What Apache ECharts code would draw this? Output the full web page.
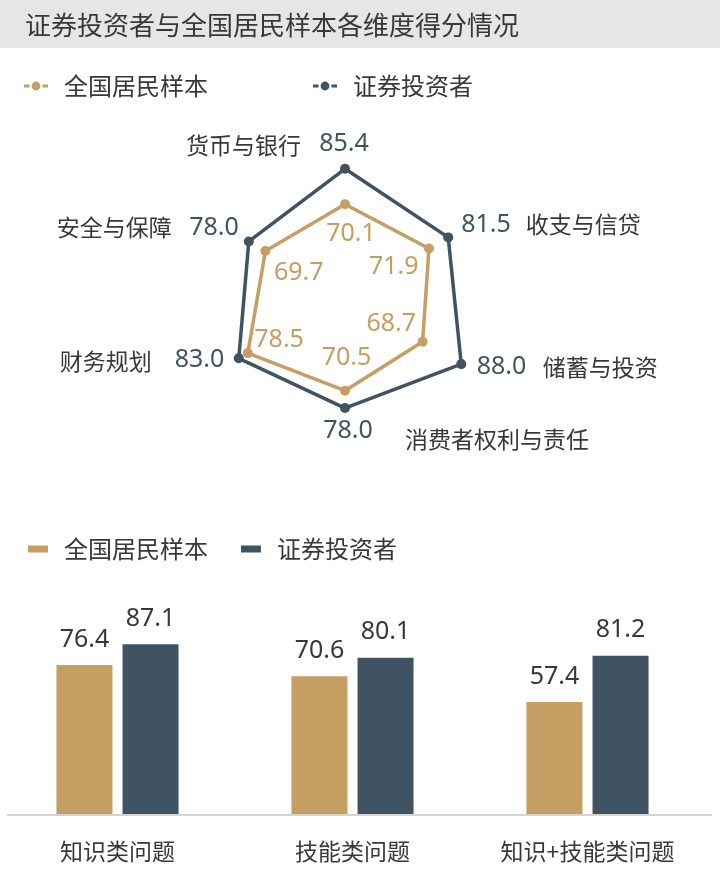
<!DOCTYPE html>
<html>
<head>
<meta charset="utf-8">
<script src="https://cdn.jsdelivr.net/npm/echarts@6/dist/echarts.min.js"></script>
<style>
html,body{margin:0;padding:0;background:#fff;}
#main{width:720px;height:872px;}
</style>
</head>
<body>
<div id="main"></div>
<script>
// ---- data ----
const seriesNames = ['全国居民样本', '证券投资者'];
const radarNames = ['货币与银行', '安全与保障', '财务规划', '消费者权利与责任', '储蓄与投资', '收支与信贷'];
const radarNational = [70.1, 69.7, 78.5, 70.5, 68.7, 71.9];
const radarInvestor = [85.4, 78.0, 83.0, 78.0, 88.0, 81.5];
const barCategories = ['知识类问题', '技能类问题', '知识+技能类问题'];
const barNational = [76.4, 70.6, 57.4];
const barInvestor = [87.1, 80.1, 81.2];

// ---- styles ----
const GOLD = '#C59E63';
const SLATE = '#405363';
const TEXT = '#383838';
const CJK = '"Noto Sans CJK SC", "Noto Sans", sans-serif';
const NUM = '"Noto Sans", "Noto Sans CJK SC", sans-serif';

// label placement relative to each radar vertex (layout, not data)
const investorLabelLayout = [
  {dx: -1, dy: -25, align: 'center'},
  {dx: -10, dy: -14, align: 'right'},
  {dx: -14.5, dy: 2, align: 'right'},
  {dx: 3, dy: 23, align: 'center'},
  {dx: 15.5, dy: 3, align: 'left'},
  {dx: 13, dy: -13, align: 'left'}
];
const nameLabelLayout = [
  {dx: -44, dy: -24, align: 'right'},
  {dx: -77, dy: -14, align: 'right'},
  {dx: -87, dy: 2.5, align: 'right'},
  {dx: 60, dy: 31.5, align: 'left'},
  {dx: 81.5, dy: 3, align: 'left'},
  {dx: 77.5, dy: -13, align: 'left'}
];
const nationalLabelLayout = [
  {dx: 6, dy: 30, align: 'center'},
  {dx: 8.5, dy: 21.5, align: 'left'},
  {dx: 6.5, dy: -13, align: 'left'},
  {dx: 1.5, dy: -32.5, align: 'center'},
  {dx: -6.5, dy: -17.5, align: 'right'},
  {dx: -10.5, dy: 18, align: 'right'}
];

const radarIcon = 'path://M0,3.5H5.5V6.5H0Z M7.6,5A4.4,4.4,0,1,0,16.4,5A4.4,4.4,0,1,0,7.6,5Z M18.5,3.5H24V6.5H18.5Z';

const RADAR_MIN = 30, RADAR_MAX = 100;
const RADAR_CENTER = [345, 297], RADAR_RADIUS = 162;

const chart = echarts.init(document.getElementById('main'), null, {renderer: 'canvas'});

const option = {
  animation: false,
  backgroundColor: '#ffffff',
  title: {
    text: '证券投资者与全国居民样本各维度得分情况',
    left: 25, top: 12, padding: 0,
    textStyle: {fontSize: 26, fontWeight: 'normal', color: TEXT, fontFamily: CJK}
  },
  legend: [
    {
      left: 24, top: 74, padding: 0,
      itemWidth: 24, itemHeight: 9, itemGap: 105,
      data: [
        {name: seriesNames[0], icon: radarIcon, itemStyle: {color: GOLD}},
        {name: seriesNames[1], icon: radarIcon, itemStyle: {color: SLATE}}
      ],
      textStyle: {fontSize: 24, color: TEXT, fontFamily: CJK, padding: [0, 0, 0, 11]},
      selectedMode: false
    },
    {
      left: 28, top: 537, padding: 0,
      itemWidth: 20, itemHeight: 7, itemGap: 33,
      data: [
        {name: seriesNames[0], icon: 'rect', itemStyle: {color: GOLD}},
        {name: seriesNames[1], icon: 'rect', itemStyle: {color: SLATE}}
      ],
      textStyle: {fontSize: 24, color: TEXT, fontFamily: CJK, padding: [0, 0, 0, 11]},
      selectedMode: false
    }
  ],
  radar: {
    center: RADAR_CENTER,
    radius: RADAR_RADIUS,
    startAngle: 90,
    indicator: radarNames.map(n => ({name: n, min: RADAR_MIN, max: RADAR_MAX})),
    axisName: {show: false},
    axisLine: {show: false},
    splitLine: {show: false},
    splitArea: {show: false},
    axisTick: {show: false},
    axisLabel: {show: false}
  },
  grid: [
    {left: -1, right: 15, top: 619, bottom: 58},
    {left: 8, right: 9, top: 619, bottom: 57}
  ],
  xAxis: [
    {
      type: 'category', gridIndex: 0, data: barCategories,
      axisLine: {show: false}, axisTick: {show: false},
      axisLabel: {fontSize: 23, color: TEXT, fontFamily: CJK, margin: 26}
    },
    {
      type: 'value', gridIndex: 1, min: 0, max: 1,
      axisLine: {show: true, onZero: false, lineStyle: {color: '#d4d4d4', width: 2}},
      axisTick: {show: false}, axisLabel: {show: false}, splitLine: {show: false}
    }
  ],
  yAxis: [
    {type: 'value', gridIndex: 0, min: 0, max: 100, show: false},
    {type: 'value', gridIndex: 1, min: 0, max: 1, show: false}
  ],
  series: [
    {
      type: 'radar',
      symbol: 'circle',
      data: [
        {
          name: seriesNames[0], value: radarNational,
          symbolSize: 10,
          itemStyle: {color: GOLD},
          lineStyle: {color: GOLD, width: 3.5}
        },
        {
          name: seriesNames[1], value: radarInvestor,
          symbolSize: 10,
          itemStyle: {color: SLATE},
          lineStyle: {color: SLATE, width: 3.5}
        }
      ],
      label: {show: false}
    },
    {
      name: seriesNames[0], type: 'bar', xAxisIndex: 0, yAxisIndex: 0,
      data: barNational, barWidth: 56, barGap: '18%',
      itemStyle: {color: GOLD},
      label: {show: true, position: 'top', distance: 13, fontSize: 25, color: TEXT, fontFamily: NUM,
        formatter: p => Number(p.value).toFixed(1)}
    },
    {
      name: seriesNames[1], type: 'bar', xAxisIndex: 0, yAxisIndex: 0,
      data: barInvestor, barWidth: 56, barGap: '18%',
      itemStyle: {color: SLATE},
      label: {show: true, position: 'top', distance: 13, fontSize: 25, color: TEXT, fontFamily: NUM,
        formatter: p => Number(p.value).toFixed(1)}
    }
  ],
  graphic: [
    {type: 'rect', z: -10, shape: {x: 0, y: 0, width: 720, height: 48}, style: {fill: '#e6e6e6'}, silent: true}
  ]
};

chart.setOption(option);

// vertex positions from ECharts' own radar coordinate system
function vertex(value, idx) {
  try {
    const cs = chart.getModel().getComponent('radar', 0).coordinateSystem;
    const p = cs.dataToPoint(value, idx);
    if (p && isFinite(p[0]) && isFinite(p[1])) return p;
  } catch (e) {}
  const ang = (90 + idx * 360 / radarNames.length) * Math.PI / 180;
  const r = RADAR_RADIUS * (value - RADAR_MIN) / (RADAR_MAX - RADAR_MIN);
  return [RADAR_CENTER[0] + r * Math.cos(ang), RADAR_CENTER[1] - r * Math.sin(ang)];
}

const texts = [];
radarNames.forEach(function (name, i) {
  const pi = vertex(radarInvestor[i], i);
  const pn = vertex(radarNational[i], i);
  const li = investorLabelLayout[i], ln = nationalLabelLayout[i], lm = nameLabelLayout[i];
  texts.push({type: 'text', silent: true, z: 100, x: pi[0] + li.dx, y: pi[1] + li.dy,
    style: {text: radarInvestor[i].toFixed(1), fill: SLATE, fontSize: 25, fontFamily: NUM, align: li.align, verticalAlign: 'middle'}});
  texts.push({type: 'text', silent: true, z: 100, x: pn[0] + ln.dx, y: pn[1] + ln.dy,
    style: {text: radarNational[i].toFixed(1), fill: GOLD, fontSize: 25, fontFamily: NUM, align: ln.align, verticalAlign: 'middle'}});
  texts.push({type: 'text', silent: true, z: 100, x: pi[0] + lm.dx, y: pi[1] + lm.dy,
    style: {text: name, fill: TEXT, fontSize: 23, fontFamily: CJK, align: lm.align, verticalAlign: 'middle'}});
});

chart.setOption({graphic: option.graphic.concat(texts)});
</script>
</body>
</html>
